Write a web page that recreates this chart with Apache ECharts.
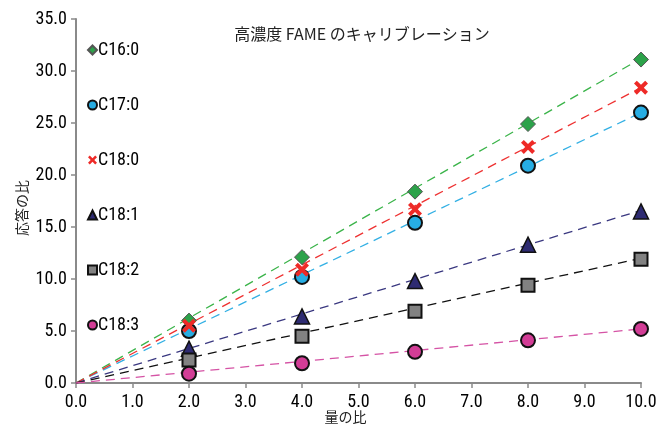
<!DOCTYPE html>
<html>
<head>
<meta charset="utf-8">
<script src="https://cdn.jsdelivr.net/npm/echarts@6/dist/echarts.min.js"></script>
<style>html,body{margin:0;padding:0;background:#fff}#c{width:662px;height:425px}</style>
</head>
<body>
<div id="c"></div>
<script>
const titleText = '高濃度 FAME のキャリブレーション';
const xName = '量の比';
const yName = '応答の比';
const xValues = [2, 4, 6, 8, 10];
const seriesNames = ['C16:0', 'C17:0', 'C18:0', 'C18:1', 'C18:2', 'C18:3'];
const c160 = [6.0, 12.1, 18.4, 24.9, 31.1];
const c170 = [5.0, 10.2, 15.4, 20.9, 26.0];
const c180 = [5.5, 10.9, 16.7, 22.7, 28.4];
const c181 = [3.3, 6.4, 9.8, 13.3, 16.5];
const c182 = [2.2, 4.5, 6.9, 9.4, 11.9];
const c183 = [0.9, 1.9, 3.0, 4.1, 5.2];
// trend line end points (start at origin, end at x = 10)
const trendX = [0, 10];
const trend160 = [0, 31.2];
const trend170 = [0, 26.0];
const trend180 = [0, 28.4];
const trend181 = [0, 16.6];
const trend182 = [0, 12.0];
const trend183 = [0, 5.2];
const xTicks = ['0.0','1.0','2.0','3.0','4.0','5.0','6.0','7.0','8.0','9.0','10.0'];
const yTicks = ['0.0','5.0','10.0','15.0','20.0','25.0','30.0','35.0'];

const values = [c160, c170, c180, c181, c182, c183];
const trends = [trend160, trend170, trend180, trend181, trend182, trend183];
const xPath = 'path://M0,20 L20,0 L50,30 L80,0 L100,20 L70,50 L100,80 L80,100 L50,70 L20,100 L0,80 L30,50 Z';
const styles = [
  {symbol: 'diamond', size: 15, color: '#2ca24a', border: '#555', bw: 1, line: '#3bb44a'},
  {symbol: 'circle', size: 14, color: '#27ade3', border: '#111', bw: 2, line: '#33b0e4'},
  {symbol: xPath, size: 14, color: '#ee2a27', border: '#ee2a27', bw: 0, line: '#ee3131'},
  {symbol: 'triangle', size: 15, color: '#2e2b72', border: '#111', bw: 1.5, line: '#3a3880'},
  {symbol: 'rect', size: 13, color: '#828282', border: '#111', bw: 2, line: '#111'},
  {symbol: 'circle', size: 14, color: '#d23d96', border: '#111', bw: 2, line: '#d553a5'}
];

const condensed = "'Roboto Condensed','DejaVu Sans Condensed',sans-serif";
const cjk = "'Noto Sans CJK JP',sans-serif";

const series = [];
seriesNames.forEach((n, i) => {
  series.push({
    name: n + '_trend', type: 'line', silent: true, symbol: 'none', z: 2,
    data: trendX.map((x, k) => [x, trends[i][k]]),
    lineStyle: {color: styles[i].line, width: 1.3, type: [9, 6]}
  });
});
seriesNames.forEach((n, i) => {
  series.push({
    name: n, type: 'scatter', z: 5,
    symbol: styles[i].symbol, symbolSize: styles[i].size,
    data: xValues.map((x, k) => [x, values[i][k]]),
    itemStyle: {color: styles[i].color, borderColor: styles[i].border, borderWidth: styles[i].bw, opacity: 1}
  });
});

const chart = echarts.init(document.getElementById('c'), null, {renderer: 'canvas'});
chart.setOption({
  animation: false,
  backgroundColor: '#fff',
  title: {text: titleText, left: 357, top: 21, textAlign: 'center',
    textStyle: {fontFamily: cjk, fontSize: 16, fontWeight: 'normal', color: '#222'}},
  legend: {
    orient: 'vertical', left: 82, top: 36, itemGap: 37, itemWidth: 9, itemHeight: 9,
    data: seriesNames.map((n, i) => ({name: n, icon: styles[i].symbol})),
    textStyle: {fontFamily: condensed, fontSize: 18, color: '#000', padding: [0, 0, 0, -4], lineHeight: 18},
    selectedMode: false
  },
  grid: {left: 76, right: 21, top: 19, bottom: 42, containLabel: false, outerBoundsMode: 'none'},
  xAxis: {
    type: 'value', min: 0, max: 10, interval: 1,
    name: xName, nameLocation: 'middle', nameGap: 27, nameMoveOverlap: false,
    nameTextStyle: {fontFamily: cjk, fontSize: 14, color: '#222', padding: [0, 26, 0, 0]},
    axisLine: {show: true, lineStyle: {color: '#8a8a8a', width: 2}},
    axisTick: {show: true, length: 5, lineStyle: {color: '#8a8a8a', width: 1.5}},
    axisLabel: {fontFamily: condensed, fontSize: 18, color: '#000', margin: 10,
      formatter: (v) => xTicks[Math.round(v)]},
    splitLine: {show: false}
  },
  yAxis: {
    type: 'value', min: 0, max: 35, interval: 5,
    name: yName, nameLocation: 'middle', nameGap: 47, nameRotate: 90, nameMoveOverlap: false,
    nameTextStyle: {fontFamily: cjk, fontSize: 14, color: '#222', padding: [0, 14, 0, 0]},
    axisLine: {show: true, lineStyle: {color: '#8a8a8a', width: 2}},
    axisTick: {show: true, length: 5, lineStyle: {color: '#8a8a8a', width: 1.5}},
    axisLabel: {fontFamily: condensed, fontSize: 18, color: '#000', margin: 9,
      formatter: (v) => yTicks[Math.round(v / 5)]},
    splitLine: {show: false}
  },
  series: series
});
</script>
</body>
</html>
